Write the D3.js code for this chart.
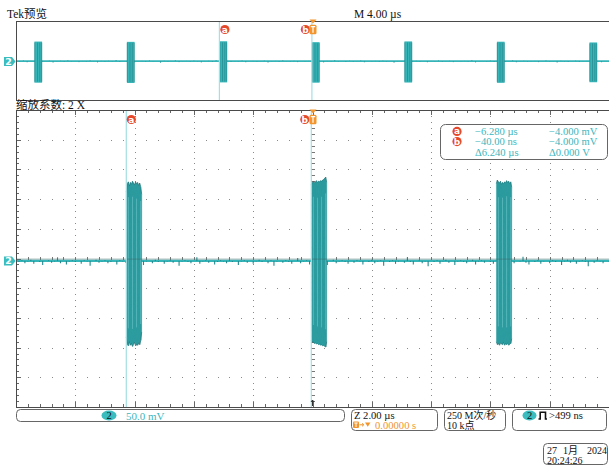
<!DOCTYPE html>
<html><head><meta charset="utf-8">
<script src="https://cdn.jsdelivr.net/npm/d3@7"></script>
<style>
html,body{margin:0;padding:0;background:#fff;}
svg{display:block;}
text{font-family:"Liberation Serif","Times New Roman","Noto Sans CJK SC",serif;}
</style></head><body>
<svg id="scope" width="609" height="467"></svg>
<script>
// ---- Data ----
// Main (zoomed) window: -10 µs .. +10 µs, 2 µs/div; 50 mV/div
const mainStep = 0.1; // µs between baseline samples
const baseLevel = -4; // mV, resting level of the trace
const mainNoise = [
 -4,-6,-3,-8,-5,-2,-9,-4,-6,-11,-4,-3,-7,-5,2,-8,-4,-10,-5,-3,
 -6,-4,-9,-3,-5,-12,-4,-2,-7,-5,-3,-8,-6,-4,-10,-3,-5,-7,3,-9,
 -4,-6,-3,-11,-5,-4,-8,-2,-6,-4,-9,-5,-3,-7,-4,-12,-5,-3,-6,-8,
 -4,2,-9,-5,-3,-7,-4,-10,-6,-3,-5,-8,-2,-6,-4,-11,-5,-3,-7,-4,
 -9,-5,-2,-6,-4,-8,-3,-12,-5,-4,-7,-3,-6,-9,-4,1,-8,-5,-3,-10,
 -4,-6,-3,-7,-5,-11,-4,-2,-8,-5,-3,-6,-9,-4,-7,-3,-5,-10,-4,-6,
 -2,-8,-5,-3,-12,-4,-6,-3,-9,-5,-4,-7,2,-6,-10,-4,-3,-8,-5,-13,
 -4,-6,-3,-9,-5,-2,-7,-4,-11,-5,-3,-6,-8,-4,-2,-10,-5,-3,-7,-4,
 -6,-9,-3,-5,-4,-12,-6,-3,-8,-4,-5,3,-7,-10,-4,-6,-3,-9,-5,-4,
 -8,-3,-6,-4,-11,-5,-2,-7,-4,-9,-5,-3,-6,-13,-4,-7,-3,-5,-8,-4,
 -5
];
const burstStarts = [-6.28, -0.04, 6.20]; // µs
const burstDur = 0.52; // µs
const burstTops = [
 [112,126,129,122,128,125,130,127,124,129,126,128,123,127,121,108],
 [125,128,130,127,129,131,128,130,129,131,130,132,133,135,137,128],
 [126,132,129,127,130,125,128,126,129,127,131,128,130,126,129,120]
];
const burstBottoms = [
 [-132,-145,-147,-140,-146,-143,-148,-144,-141,-147,-145,-146,-142,-145,-138,-124],
 [-138,-141,-140,-143,-142,-144,-143,-145,-144,-146,-145,-147,-146,-148,-149,-140],
 [-140,-145,-143,-146,-142,-144,-145,-141,-146,-143,-145,-142,-146,-144,-143,-135]
];

// Overview record: -20 µs .. +20 µs, 4 µs/div
const ovStep = 0.25;
const ovNoise = [
 -4,-8,0,-12,-3,-6,2,-10,-4,-1,-14,-5,-2,-9,1,-6,-4,-11,-3,-7,
 0,-5,-13,-3,-8,-2,-6,3,-10,-4,-7,-1,-12,-5,-3,-9,0,-6,-4,-15,
 -2,-7,-4,1,-11,-5,-3,-8,-1,-6,-13,-4,-2,-9,2,-5,-7,-3,-10,-4,
 -6,0,-12,-4,-3,-8,-5,-1,-14,-6,-3,-9,1,-5,-7,-2,-11,-4,-6,-3,
 -9,-1,-5,-13,-3,-7,2,-6,-4,-10,-2,-8,-5,0,-12,-4,-6,-3,-9,-1,
 -7,-4,-15,-3,-5,1,-10,-6,-2,-8,-4,-12,-3,-6,0,-9,-5,-2,-11,-4,
 -6,-3,-8,2,-13,-5,-4,-7,-1,-10,-6,-3,-9,-4,1,-12,-5,-2,-8,-6,
 -3,-11,-4,0,-7,-5,-14,-2,-6,-9,-4,-1,-10,-5,-3,-8,2,-6,-12,-4,
 -5
];
const ovBurstStarts = [-18.76, -12.52, -6.28, -0.04, 6.20, 12.44, 18.68];
const ovBurstTops = [128, 126, 130, 124, 129, 127, 122];
const ovBurstBottoms = [-150, -152, -148, -150, -149, -151, -147];

// Cursors (µs)
const cursorA = -6.28, cursorB = -0.04;
const readoutMarks = ["a", "b", ""];
const readoutTimes = ["\u22126.280 \u00b5s", "\u221240.00 ns", "\u03946.240 \u00b5s"];
const readoutVolts = ["\u22124.000 mV", "\u22124.000 mV", "\u03940.000 V"];

// ---- Scales ----
const X0 = 16, X1 = 609;
const x = d3.scaleLinear().domain([-10, 10]).range([X0, X1]);
const y = d3.scaleLinear().domain([-250, 250]).range([407, 110]);
const xo = d3.scaleLinear().domain([-20, 20]).range([X0, X1]);
const yo = d3.scaleLinear().domain([-267, 267]).range([100, 21]);

const TEAL = "#36b5b8", DARK = "#1f7478", CUR = "#a3dfe4", TXT = "#3db6bd";
const ORANGE = "#f2952c", RED = "#e5482b";

const svg = d3.select("#scope");
svg.append("rect").attr("width", 609).attr("height", 467).attr("fill", "#fff");

const isMajor = (v, step) => Math.abs(v / step - Math.round(v / step)) < 1e-6;

// ---- Main graticule ----
const grid = svg.append("g").attr("shape-rendering", "crispEdges");
const tMinor = d3.range(-10, 10.0001, 0.4);
const vMinor = d3.range(-250, 250.001, 10);
const tMajor = d3.range(-8, 8.001, 2);
const vMajor = d3.range(-200, 200.001, 50);

tMajor.filter(t => Math.abs(t) > 1e-6).forEach(t => {
  vMinor.forEach(v => grid.append("rect").attr("x", Math.round(x(t))).attr("y", Math.round(y(v)))
    .attr("width", 1).attr("height", 1).attr("fill", "#8a8a8a"));
});
vMajor.filter(v => Math.abs(v) > 1e-6).forEach(v => {
  tMinor.forEach(t => grid.append("rect").attr("x", Math.round(x(t))).attr("y", Math.round(y(v)))
    .attr("width", 1).attr("height", 1).attr("fill", "#8a8a8a"));
});
// centre cross with minor ticks
vMinor.forEach(v => grid.append("line").attr("x1", x(0) - 2).attr("x2", x(0) + 2)
  .attr("y1", Math.round(y(v)) + 0.5).attr("y2", Math.round(y(v)) + 0.5).attr("stroke", "#777"));
tMinor.forEach(t => grid.append("line").attr("y1", y(0) - 2).attr("y2", y(0) + 2)
  .attr("x1", Math.round(x(t)) + 0.5).attr("x2", Math.round(x(t)) + 0.5).attr("stroke", "#777"));
// border ticks
tMinor.forEach(t => {
  const len = isMajor(t, 2) ? 5 : 3, xx = Math.round(x(t)) + 0.5;
  grid.append("line").attr("x1", xx).attr("x2", xx).attr("y1", 407).attr("y2", 407 - len).attr("stroke", "#666");
  grid.append("line").attr("x1", xx).attr("x2", xx).attr("y1", 110).attr("y2", 110 + len).attr("stroke", "#666");
});
vMinor.forEach(v => {
  const len = isMajor(v, 50) ? 5 : 3, yy = Math.round(y(v)) + 0.5;
  grid.append("line").attr("x1", 16).attr("x2", 16 + len).attr("y1", yy).attr("y2", yy).attr("stroke", "#666");
});

// ---- Main waveform ----
const wave = svg.append("g");
// resting trace with noise spikes drawn as stems from the resting level
wave.append("line").attr("x1", X0).attr("x2", X1).attr("y1", y(baseLevel)).attr("y2", y(baseLevel))
  .attr("stroke", TEAL).attr("stroke-width", 2.4);
wave.selectAll(".spk").data(mainNoise).join("line").attr("class", "spk")
  .attr("x1", (d, i) => x(-10 + i * mainStep)).attr("x2", (d, i) => x(-10 + i * mainStep))
  .attr("y1", y(baseLevel)).attr("y2", d => y(d))
  .attr("stroke", "#22898d").attr("stroke-width", 1.1);

burstStarts.forEach((s, k) => {
  const tops = burstTops[k], bots = burstBottoms[k];
  const n = tops.length, dt = burstDur / (n - 1);
  const pts = tops.map((tp, i) => ({ t: s + i * dt, top: tp, bot: bots[i] }));
  wave.append("path").datum(pts)
    .attr("d", d3.area().x(d => x(d.t)).y0(d => y(d.bot)).y1(d => y(d.top)))
    .attr("fill", TEAL);
  const zig = [];
  pts.forEach((d, i) => {
    zig.push([d.t, d.top]);
    zig.push([Math.min(d.t + dt / 2, s + burstDur), d.bot]);
  });
  wave.append("path").datum(zig)
    .attr("d", d3.line().x(d => x(d[0])).y(d => y(d[1])))
    .attr("fill", "none").attr("stroke", DARK).attr("stroke-width", 0.5).attr("opacity", 0.45);
  // light streaks inside the burst
  wave.selectAll(null).data(pts.filter((d, i) => i % 4 === 2)).join("line")
    .attr("x1", d => x(d.t)).attr("x2", d => x(d.t))
    .attr("y1", d => y(d.top * 0.8)).attr("y2", d => y(d.bot * 0.8))
    .attr("stroke", "#8ad6d8").attr("stroke-width", 0.8).attr("opacity", 0.55);
  // darker ragged edges of the envelope
  wave.append("path").datum(pts)
    .attr("d", d3.line().x(d => x(d.t)).y(d => y(d.top)))
    .attr("fill", "none").attr("stroke", DARK).attr("stroke-width", 1).attr("opacity", 0.7);
  wave.append("path").datum(pts)
    .attr("d", d3.line().x(d => x(d.t)).y(d => y(d.bot)))
    .attr("fill", "none").attr("stroke", DARK).attr("stroke-width", 1).attr("opacity", 0.7);
});
// trace core line
wave.append("line").attr("x1", X0).attr("x2", X1).attr("y1", y(-1)).attr("y2", y(-1))
  .attr("stroke", "#3f6465").attr("stroke-width", 0.8).attr("opacity", 0.6);

// main borders
const border = svg.append("g").attr("shape-rendering", "crispEdges").attr("stroke", "#4a4a4a");
border.append("line").attr("x1", 16).attr("x2", 609).attr("y1", 110.5).attr("y2", 110.5);
border.append("line").attr("x1", 16).attr("x2", 609).attr("y1", 407.5).attr("y2", 407.5);
border.append("line").attr("x1", 16.5).attr("x2", 16.5).attr("y1", 110).attr("y2", 408);

// main cursors
[cursorA, cursorB].forEach(c => svg.append("line").attr("x1", x(c)).attr("x2", x(c))
  .attr("y1", 111).attr("y2", 407).attr("stroke", CUR).attr("stroke-width", 1.2));
// trigger position tick on bottom border
svg.append("path").attr("d", `M${x(0)},400 V406 M${x(0) - 1.5},402 L${x(0)},400 L${x(0) + 1.5},402`)
  .attr("stroke", "#333").attr("fill", "none").attr("stroke-width", 1);

// ---- Overview ----
const ov = svg.append("g");
ov.append("line").attr("x1", X0).attr("x2", X1).attr("y1", yo(baseLevel)).attr("y2", yo(baseLevel))
  .attr("stroke", TEAL).attr("stroke-width", 1.6);
ov.selectAll(".ospk").data(ovNoise).join("line").attr("class", "ospk")
  .attr("x1", (d, i) => xo(-20 + i * ovStep)).attr("x2", (d, i) => xo(-20 + i * ovStep))
  .attr("y1", yo(baseLevel)).attr("y2", d => yo(d))
  .attr("stroke", "#2a9ea2").attr("stroke-width", 1);
ovBurstStarts.forEach((s, k) => {
  const x0 = xo(s), x1 = xo(s + burstDur);
  ov.append("rect").attr("x", x0).attr("y", yo(ovBurstTops[k]))
    .attr("width", x1 - x0).attr("height", yo(ovBurstBottoms[k]) - yo(ovBurstTops[k])).attr("fill", TEAL);
  [0.05, 0.4, 0.7, 0.95].forEach(f => ov.append("line")
    .attr("x1", x0 + f * (x1 - x0)).attr("x2", x0 + f * (x1 - x0))
    .attr("y1", yo(ovBurstTops[k]) + 1).attr("y2", yo(ovBurstBottoms[k]) - 1)
    .attr("stroke", DARK).attr("stroke-width", 0.8).attr("opacity", 0.6));
});
[cursorA, cursorB].forEach(c => ov.append("line").attr("x1", xo(c)).attr("x2", xo(c))
  .attr("y1", 22).attr("y2", 100).attr("stroke", CUR).attr("stroke-width", 1.2));
const ob = svg.append("g").attr("shape-rendering", "crispEdges").attr("stroke", "#4a4a4a");
ob.append("line").attr("x1", 16).attr("x2", 609).attr("y1", 21.5).attr("y2", 21.5);
ob.append("line").attr("x1", 16).attr("x2", 609).attr("y1", 100.5).attr("y2", 100.5);
ob.append("line").attr("x1", 16.5).attr("x2", 16.5).attr("y1", 21).attr("y2", 101);

// ---- Markers ----
function circleMark(cx, cy, letter) {
  svg.append("circle").attr("cx", cx).attr("cy", cy).attr("r", 4.6).attr("fill", RED);
  svg.append("text").attr("x", cx).attr("y", cy + 3).attr("text-anchor", "middle")
    .attr("font-size", 9).attr("font-weight", "bold").style("font-family", "DejaVu Sans")
    .attr("fill", "#fff").text(letter);
}
function trigMark(cx, cy) {
  svg.append("rect").attr("x", cx - 3.5).attr("y", cy - 4.8).attr("width", 7).attr("height", 9.6)
    .attr("rx", 1.5).attr("fill", ORANGE);
  svg.append("path").attr("d", `M${cx - 2.2},${cy - 2.8} H${cx + 2.2} M${cx},${cy - 2.8} V${cy + 3.2}`)
    .attr("stroke", "#fff").attr("stroke-width", 1.2);
}
function trigArrow(cx, top) {
  svg.append("path").attr("d", `M${cx - 3.5},${top} H${cx + 3.5} L${cx},${top + 4} Z`).attr("fill", ORANGE);
}
function chMark(cy) {
  svg.append("path").attr("d", `M4,${cy - 4.5} H12 L15.5,${cy} L12,${cy + 4.5} H4 Z`).attr("fill", "#3bbdc0");
  svg.append("text").attr("x", 8.5).attr("y", cy + 3.3).attr("text-anchor", "middle")
    .attr("font-size", 9.5).attr("font-weight", "bold").style("font-family", "DejaVu Sans")
    .attr("fill", "#fff").text("2");
}
circleMark(xo(cursorA) + 5.5, 29.5, "a");
circleMark(xo(cursorB) - 6.5, 29.5, "b");
trigMark(xo(0) + 0.5, 29.5);
trigArrow(xo(0) + 0.5, 19.5);
circleMark(x(cursorA) + 5, 119.5, "a");
circleMark(x(cursorB) - 6.5, 119.5, "b");
trigMark(x(0) + 0.5, 119.5);
trigArrow(x(0) + 0.5, 109.5);
chMark(yo(baseLevel) + 0.5);
chMark(y(baseLevel));

// ---- Labels ----
const lbl = (tx, ty, s, opts = {}) => svg.append("text").attr("x", tx).attr("y", ty)
  .attr("font-size", opts.size || 11.5).attr("fill", opts.fill || "#111").text(s);
lbl(7, 18, "Tek\u9884\u89c8");
lbl(354, 18, "M 4.00 \u00b5s");
lbl(16, 108.5, "\u7f29\u653e\u7cfb\u6570: 2 X");

// cursor readout
svg.append("rect").attr("x", 440.5).attr("y", 124.5).attr("width", 167).attr("height", 35)
  .attr("rx", 5).attr("fill", "#fff").attr("stroke", "#666");
const rowY = [135, 145.2, 156];
readoutMarks.forEach((m, i) => {
  if (m) circleMark(457, rowY[i] - 3.6, m);
  lbl(475, rowY[i], readoutTimes[i], { fill: TXT, size: 10.6 });
  lbl(549, rowY[i], readoutVolts[i], { fill: TXT, size: 10.6 });
});

// bottom status boxes
const box = (bx, by, w, h) => svg.append("rect").attr("x", bx).attr("y", by).attr("width", w).attr("height", h)
  .attr("rx", 4).attr("fill", "none").attr("stroke", "#666");
box(16.5, 409.5, 328, 12);
svg.append("ellipse").attr("cx", 109).attr("cy", 415.5).attr("rx", 7.5).attr("ry", 5).attr("fill", "#3bbdc0");
svg.append("text").attr("x", 109).attr("y", 419.3).attr("text-anchor", "middle").attr("font-size", 10.5).attr("fill", "#111").text("2");
lbl(126, 419.5, "50.0 mV", { fill: TXT, size: 11 });

box(351.5, 409.5, 86, 21);
lbl(354, 418.8, "Z 2.00 \u00b5s", { size: 10.6 });
svg.append("rect").attr("x", 353).attr("y", 421.5).attr("width", 6).attr("height", 6.5).attr("rx", 1).attr("fill", ORANGE);
svg.append("path").attr("d", "M354.3,423 H357.7 M356,423 V427").attr("stroke", "#fff").attr("stroke-width", 1);
svg.append("path").attr("d", "M359.5,424.8 H363.5 M362,423.3 L363.8,424.8 L362,426.3").attr("stroke", ORANGE).attr("fill", "none").attr("stroke-width", 1);
svg.append("path").attr("d", "M365,422.5 H370.5 L367.75,426.8 Z").attr("fill", ORANGE);
lbl(375, 428.5, "0.00000 s", { fill: ORANGE, size: 10.6 });

box(444.5, 409.5, 61, 21);
lbl(447, 418.8, "250 M\u6b21/\u79d2", { size: 10 });
lbl(447, 428.8, "10 k\u70b9", { size: 10 });

box(512.5, 409.5, 94, 21);
svg.append("ellipse").attr("cx", 529.5).attr("cy", 415.5).attr("rx", 7).attr("ry", 5).attr("fill", "#3bbdc0");
svg.append("text").attr("x", 529.5).attr("y", 419.3).attr("text-anchor", "middle").attr("font-size", 10.5).attr("fill", "#111").text("2");
svg.append("path").attr("d", "M538.5,419 H540.2 V412.2 H545.5 V419 H547").attr("stroke", "#111").attr("stroke-width", 1.6).attr("fill", "none");
lbl(549, 419, ">499 ns", { size: 10.6 });

box(543.5, 443.5, 64, 21);
lbl(547, 454, "27", { size: 10 });
lbl(563, 454, "1\u6708", { size: 10 });
lbl(587, 454, "2024", { size: 10 });
lbl(547, 464, "20:24:26", { size: 10 });
</script></body></html>
